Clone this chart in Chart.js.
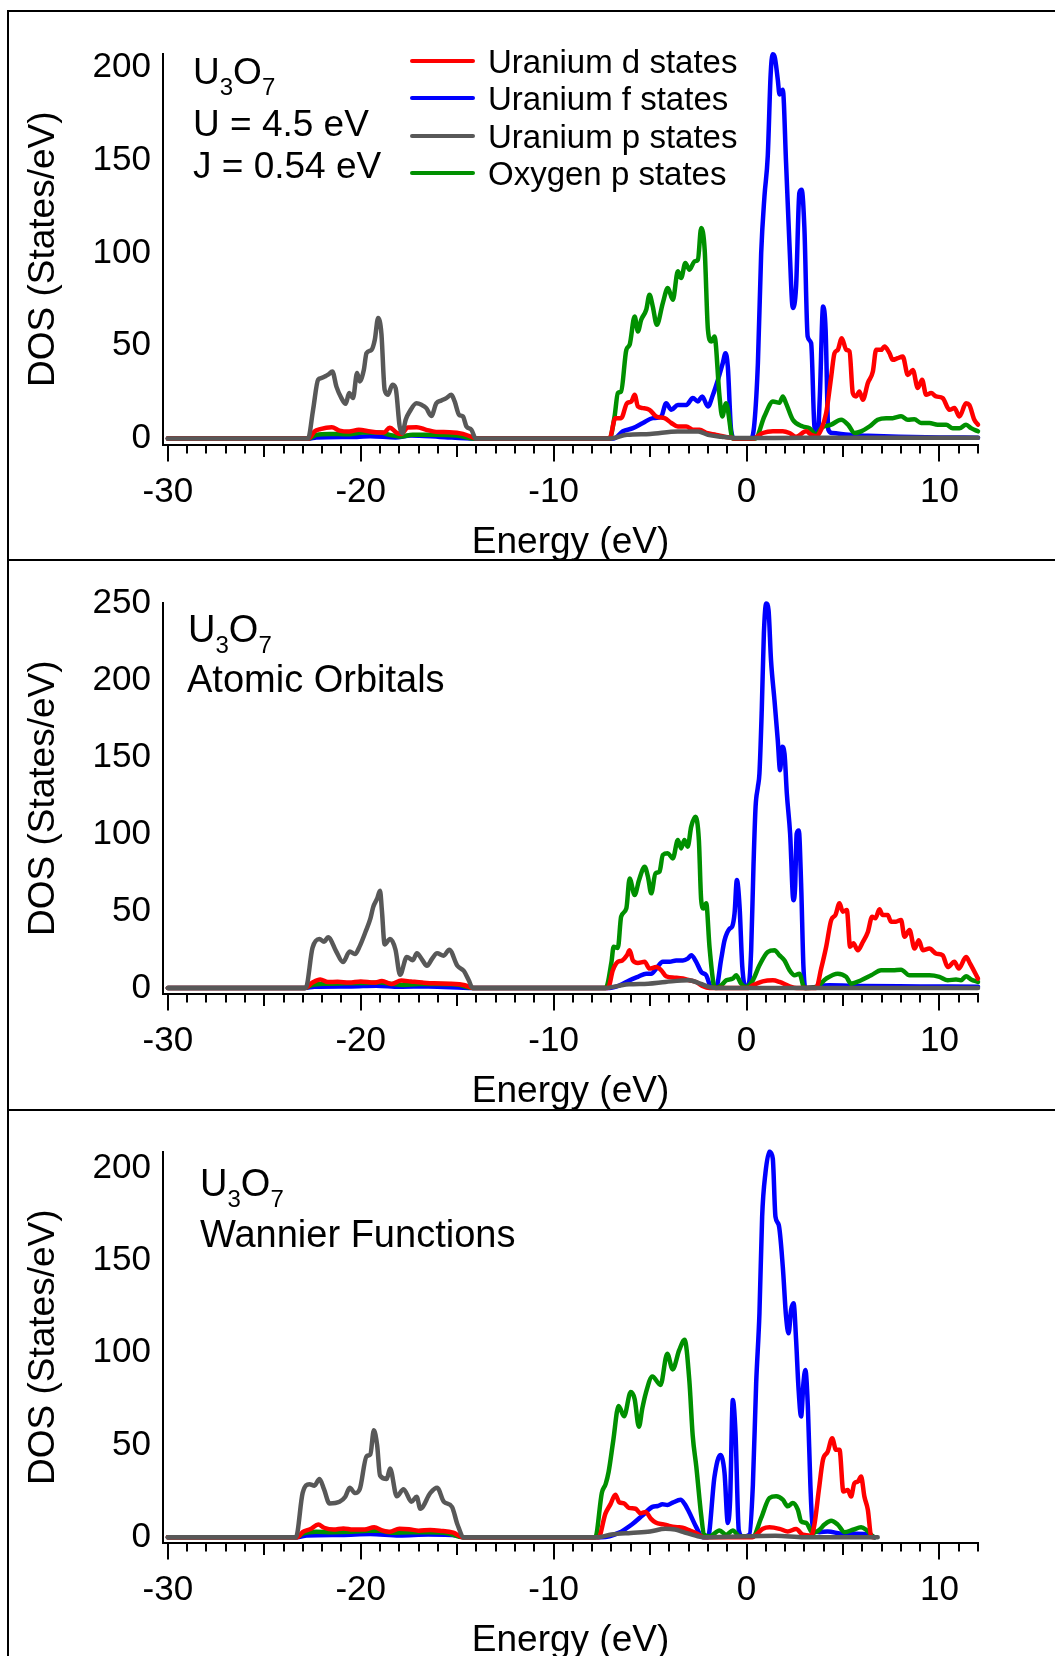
<!DOCTYPE html>
<html>
<head>
<meta charset="utf-8">
<script src="https://cdn.jsdelivr.net/npm/chart.js@4.4.1/dist/chart.umd.min.js"></script>
<style>
html,body{margin:0;padding:0;background:#fff;overflow:hidden;}
body{width:1055px;height:1656px;position:relative;font-family:'Liberation Sans',Arial,sans-serif;color:#000;}
.pane{position:absolute;left:0;width:1055px;height:565px;}
.hline{position:absolute;left:7px;right:0;height:2px;background:#000;z-index:5;}
.vline{position:absolute;left:7px;width:2px;top:10px;bottom:0;background:#000;z-index:5;}
.txt{position:absolute;white-space:nowrap;line-height:1;font-size:37px;z-index:6;}
.t38{font-size:38px;}
.sub{font-size:24px;position:relative;top:11px;}
.leg{position:absolute;left:410px;width:65px;height:4px;border-radius:2px;z-index:6;}
.legt{position:absolute;left:488px;font-size:33px;line-height:1;white-space:nowrap;z-index:6;}
</style>
</head>
<body>
<div class="pane" style="top:0px"><canvas id="c1" width="1055" height="565"></canvas></div>
<div class="pane" style="top:549px"><canvas id="c2" width="1055" height="565"></canvas></div>
<div class="pane" style="top:1098px"><canvas id="c3" width="1055" height="565"></canvas></div>

<div class="hline" style="top:10px"></div>
<div class="hline" style="top:559px"></div>
<div class="hline" style="top:1109px"></div>
<div class="vline"></div>

<div class="txt" style="left:193px;top:53px">U<span class="sub">3</span>O<span class="sub">7</span></div>
<div class="txt" style="left:193px;top:105px">U = 4.5 eV</div>
<div class="txt" style="left:193px;top:147px">J = 0.54 eV</div>

<div class="txt t38" style="left:188px;top:610px">U<span class="sub">3</span>O<span class="sub">7</span></div>
<div class="txt t38" style="left:187px;top:660px">Atomic Orbitals</div>

<div class="txt t38" style="left:200px;top:1164px">U<span class="sub">3</span>O<span class="sub">7</span></div>
<div class="txt t38" style="left:200px;top:1215px">Wannier Functions</div>

<div id="legend"></div>

<script>
// ---------- labels / ticks ----------
const seriesLabels = ['Uranium d states', 'Uranium f states', 'Uranium p states', 'Oxygen p states'];
const seriesColors = ['#ff0000', '#0000ff', '#585858', '#009000'];
const xTickVals = [-30, -20, -10, 0, 10];
const yTicksP1 = [0, 50, 100, 150, 200];
const yTicksP2 = [0, 50, 100, 150, 200, 250];
const yTicksP3 = [0, 50, 100, 150, 200];

// ---------- Panel 1 : U = 4.5 eV, J = 0.54 eV ----------
const p1Red = [[-30,0],[-22.7,0],[-22.4,3.8],[-22.1,5.1],[-21.5,6.1],[-21.1,4.3],[-20.6,3.8],[-20.1,4.7],[-19.5,3.8],[-18.8,3.2],[-18.5,5.8],[-18.1,2.9],[-17.9,2.5],[-17.55,6],[-17.1,6.1],[-16.6,4.7],[-16.1,3.6],[-15.4,3.4],[-14.7,2.5],[-14.1,0.3],[-14,0],
[-7.1,0],[-6.8,11],[-6.5,11],[-6.2,19],[-5.97,20],[-5.8,23.6],[-5.63,17.3],[-5.37,16.4],[-5.03,15.5],[-4.68,11.9],[-4.25,11],[-3.9,8.4],[-3.56,6.5],[-3.12,6.5],[-2.78,4.8],[-2.43,4.8],[-2.09,3],[-1.57,2],[-1.14,1],[-0.8,0.5],[-0.6,0],
[0.35,0],[0.84,3],[1.37,4],[1.88,4],[2.23,3],[2.57,1],[3.09,3.9],[3.35,2],[3.61,1.3],[3.87,4.8],[4.13,13.8],[4.39,33.4],[4.56,46],[4.73,47.8],[4.94,54.1],[5.17,47.8],[5.34,46.9],[5.51,24.5],[5.68,22.7],[5.85,25.4],[6.03,20.9],[6.29,30],[6.55,36.1],[6.72,47.8],[6.98,47.8],[7.15,49.6],[7.41,46],[7.58,42.4],[7.84,43.3],[8.1,44.2],[8.36,34.3],[8.62,37],[8.88,27.2],[9.1,31.7],[9.31,23.6],[9.57,24.5],[9.83,22.7],[10.17,21.8],[10.52,15.5],[10.78,16.4],[11.04,11.9],[11.38,19],[11.55,18.1],[11.81,10.1],[12,7.5]];
const p1Blue = [[-30,0],[-22.7,0],[-22.3,0.6],[-20.2,0.9],[-19.5,1.3],[-18.2,0.6],[-17.4,1.6],[-15.9,0.9],[-14.1,0],
[-6.9,0],[-6.41,3.9],[-5.89,5.6],[-5.37,8.4],[-4.86,11],[-4.42,11.9],[-4.17,19],[-3.9,15.5],[-3.56,18.1],[-3.12,18.1],[-2.78,21.8],[-2.52,20],[-2.3,22.7],[-2.0,17.3],[-1.74,23.6],[-1.48,31.7],[-1.23,40.7],[-1.09,46],[-0.97,38.8],[-0.8,4.8],[-0.62,0],
[0.24,0],[0.41,8.4],[0.59,40.7],[0.76,100],[0.93,130.5],[1.1,152],[1.25,196],[1.35,207],[1.45,206],[1.62,193.5],[1.71,185.4],[1.88,188],[2.05,148.5],[2.23,103.6],[2.4,70.3],[2.57,82],[2.74,132.4],[2.86,134],[3.0,113.5],[3.17,55],[3.35,51.4],[3.52,6.5],[3.69,1.3],[3.8,22.7],[3.97,71.2],[4.1,58.6],[4.24,4.8],[4.44,3],[5.3,2],[6.3,1.5],[7.9,1],[10,0.6],[12,0.5]];
const p1Gray = [[-30,0],[-22.73,0],[-22.47,15.5],[-22.21,31.7],[-22.04,32.6],[-21.87,33.4],[-21.69,34.4],[-21.47,36.1],[-21.26,28],[-21.0,21.8],[-20.78,18.7],[-20.6,24.5],[-20.4,21.8],[-20.19,35.3],[-20.05,30.8],[-19.84,37],[-19.7,46],[-19.44,47.8],[-19.27,53.2],[-19.1,64.9],[-18.93,56.8],[-18.76,26.3],[-18.59,23.6],[-18.36,29],[-18.19,27.2],[-17.98,6.5],[-17.84,2.9],[-17.67,10.1],[-17.46,14.6],[-17.11,19],[-16.85,18.2],[-16.6,16.4],[-16.34,12.2],[-16.08,19],[-15.82,20.5],[-15.56,21.8],[-15.3,23.6],[-15.13,20],[-14.9,12.8],[-14.7,11.9],[-14.52,6.5],[-14.26,4.7],[-14.04,0],
[-7.1,0],[-6.2,2],[-5.0,2.5],[-3.56,3.8],[-2.5,3.8],[-2.0,2],[-1.3,1],[-0.5,0.3],[3,0.4],[12,0.5]];
const p1Green = [[-30,0],[-22.7,0],[-22.3,2],[-21.6,2.5],[-20.7,2.3],[-19.9,3.2],[-19.0,3.2],[-18.5,2],[-18.0,1.1],[-17.3,2],[-16.1,2],[-15.0,1.7],[-14.1,0],
[-7.1,0],[-6.84,11.9],[-6.67,24.5],[-6.5,25.4],[-6.23,47.8],[-6.06,50.5],[-5.8,65.8],[-5.63,57.7],[-5.46,64],[-5.2,69.4],[-5.03,77.5],[-4.86,71.2],[-4.65,61.3],[-4.34,73],[-4.08,81.1],[-3.82,74.8],[-3.56,90.1],[-3.39,86.5],[-3.17,94.6],[-2.96,91],[-2.69,95.5],[-2.52,96.4],[-2.35,113.5],[-2.17,101.8],[-2.0,58.6],[-1.83,52.3],[-1.66,55],[-1.4,22.7],[-1.26,11.9],[-1.06,19],[-0.71,0],
[0.45,0],[0.93,12],[1.37,20],[1.71,19.3],[1.88,22.7],[2.05,19],[2.4,10.1],[2.92,6.5],[3.26,5.6],[3.61,2],[3.87,5.6],[4.39,7.5],[4.91,10.1],[5.26,7.5],[5.6,3],[5.94,3.9],[6.37,6.5],[6.8,10.1],[7.24,11],[7.58,11],[8.01,12],[8.36,10.1],[8.7,10.4],[9.05,8.4],[9.48,8.4],[9.91,7.5],[10.35,7.5],[10.69,5.6],[11.04,5.6],[11.38,7.5],[11.64,5.6],[12,3.9]];

// ---------- Panel 2 : Atomic Orbitals ----------
const p2Red = [[-30,0],[-22.9,0],[-22.5,3.5],[-22.1,5.5],[-21.7,3.8],[-21.2,4],[-20.6,3.5],[-20,4.2],[-19.3,3.5],[-18.9,4.5],[-18.4,2.5],[-17.9,4.8],[-17.4,4.2],[-16.8,3.5],[-16.2,3],[-15.4,2.8],[-14.6,1.8],[-14.2,0],
[-7.18,0],[-6.93,11.5],[-6.67,17],[-6.44,17.9],[-6.2,21.2],[-6.06,24.5],[-5.89,17.9],[-5.63,16.3],[-5.28,17],[-5.03,12.6],[-4.68,13.6],[-4.42,11.5],[-4.17,7.6],[-3.73,6.7],[-3.3,6.1],[-2.96,5],[-2.61,3.9],[-2.26,1.1],[-1.92,0],
[0.1,0],[0.33,1.7],[0.84,4.3],[1.37,5],[1.71,3.9],[2.23,1.1],[2.6,0],[3.61,0],[3.87,12.6],[4.13,26.8],[4.39,44.1],[4.61,47.4],[4.82,55],[4.99,49.6],[5.2,50.6],[5.37,26.8],[5.54,29],[5.77,24.5],[6.03,29.9],[6.29,36.4],[6.51,46.3],[6.68,45.3],[6.89,51.1],[7.06,47.4],[7.32,47.4],[7.49,43.1],[7.75,43.1],[8.01,44.2],[8.19,33.3],[8.45,37.6],[8.71,25.6],[8.93,31],[9.14,24.5],[9.48,25.6],[9.83,22.3],[10.17,21.2],[10.43,13.6],[10.78,17],[11.0,12.6],[11.38,20.1],[11.59,15.8],[12,6.1]];
const p2Blue = [[-30,0],[-22.9,0],[-22.4,0.8],[-20.5,1],[-19.2,1.5],[-18,0.8],[-16.5,1],[-14.2,0],
[-7.1,0],[-6.58,1.7],[-6.06,5],[-5.63,7.2],[-5.2,9.3],[-4.94,9.3],[-4.68,12.6],[-4.34,17],[-3.99,17],[-3.65,17.9],[-3.3,17.9],[-3.05,19],[-2.87,21.2],[-2.61,17],[-2.35,10.4],[-2.09,8.2],[-1.83,0.6],[-1.57,0.6],[-1.31,19],[-1.14,30.9],[-0.88,38.5],[-0.74,40],[-0.62,48.5],[-0.5,70.1],[-0.36,52.9],[-0.22,14],[-0.05,0.6],[0.12,2.8],[0.24,24.5],[0.36,78.8],[0.47,117.8],[0.59,130.7],[0.67,139.4],[0.79,180.6],[0.9,230.4],[1.02,249.9],[1.14,245.6],[1.27,213],[1.45,186.9],[1.62,161],[1.74,141.5],[1.85,156.7],[1.97,152.3],[2.09,126.3],[2.26,100.3],[2.43,57],[2.52,65.7],[2.6,100.3],[2.71,102.4],[2.83,67.8],[2.95,14],[3.05,0],[4.3,1.7],[6,1.2],[9,1],[12,0.8]];
const p2Gray = [[-30,0],[-22.85,0],[-22.5,26],[-22.14,31.8],[-21.9,30],[-21.69,33],[-21.27,23.7],[-20.92,16.8],[-20.57,23.7],[-20.3,22],[-20.05,27.2],[-19.75,36.5],[-19.5,45],[-19.35,52.7],[-19.15,58],[-19.0,63.2],[-18.9,50],[-18.76,28.3],[-18.48,31.8],[-18.2,25],[-17.96,8.6],[-17.61,20.2],[-17.3,18],[-17.09,22.5],[-16.8,18],[-16.57,14.4],[-16.3,19],[-16.04,22.5],[-15.7,21],[-15.41,24.9],[-14.99,14.4],[-14.65,11],[-14.4,5],[-14.2,0],
[-7.3,0],[-6.6,1.5],[-6.1,2.4],[-5.1,2.8],[-4.2,3.9],[-3.0,5],[-2.4,2.8],[-1.9,0.5],[-1.5,0],[12,0]];
const p2Green = [[-30,0],[-22.9,0],[-22.5,2],[-21.8,2.8],[-20.8,3],[-19.8,3.2],[-19,3.5],[-18.3,2.5],[-17.8,2],[-17,2.5],[-16,2.5],[-15,2.2],[-14.2,0],
[-7.3,0],[-7.0,17],[-6.89,26.8],[-6.67,26],[-6.5,46.3],[-6.23,51.7],[-6.06,71.2],[-5.8,60.4],[-5.57,70.2],[-5.28,78.8],[-5.11,72.3],[-4.94,61.5],[-4.72,74.5],[-4.51,75.6],[-4.34,86.4],[-4.08,87.5],[-3.82,84.2],[-3.56,96.1],[-3.39,90.7],[-3.22,96.1],[-3.05,91.8],[-2.87,104.7],[-2.65,111.2],[-2.47,96.1],[-2.35,57.1],[-2.23,51.7],[-2.09,55],[-1.92,26.8],[-1.71,2.8],[-1.6,0],[-1.31,1.7],[-1.05,5],[-0.71,6.1],[-0.54,8.2],[-0.28,2.8],[-0.02,0.6],[0.33,5],[0.67,14.7],[1.1,23.4],[1.45,24.5],[1.71,21.2],[1.97,17.9],[2.23,11.5],[2.49,8.2],[2.74,9.3],[3.0,0],[3.61,0.6],[4.13,6.1],[4.73,9.3],[5.17,7.2],[5.42,2.8],[5.94,5],[6.46,8.2],[6.98,11.5],[7.58,11.5],[8.01,11.9],[8.45,8.2],[8.88,8.2],[9.48,8.2],[10.0,7.2],[10.43,5],[10.86,5.5],[11.12,5],[11.38,7.6],[11.64,5.5],[12,3.9]];

// ---------- Panel 3 : Wannier Functions ----------
const p3Red = [[-30,0],[-23.3,0],[-23.0,3],[-22.6,4.5],[-22.2,7],[-21.9,5.2],[-21.4,4.2],[-20.9,4.8],[-20.4,4.2],[-19.8,4.2],[-19.3,5.5],[-18.9,3.8],[-18.5,3],[-18,4.6],[-17.5,4.4],[-17,3.6],[-16.4,4],[-15.9,3.6],[-15.2,2.5],[-14.7,0],
[-7.67,0],[-7.32,12.7],[-7.05,18],[-6.8,23.1],[-6.6,19],[-6.35,18.4],[-6.1,16],[-5.75,15.5],[-5.5,13],[-5.23,13.7],[-4.95,10],[-4.71,8],[-4.3,7],[-4.01,6.2],[-3.6,5.5],[-3.32,5.2],[-2.9,3.5],[-2.62,2.3],[-2.2,0],
[0.3,0],[0.5,1.4],[0.85,4.6],[1.19,5.4],[1.71,4.6],[2.14,3.2],[2.57,4.5],[2.92,1.4],[3.35,0.9],[3.52,6.9],[3.75,25.7],[3.96,41.9],[4.21,46.4],[4.44,53.7],[4.64,47.4],[4.82,47.4],[5.02,24.8],[5.25,25.7],[5.42,22.1],[5.59,29.3],[5.77,30.2],[5.94,32.9],[6.11,22.1],[6.29,14.9],[6.46,0.5],[6.55,0]];
const p3Blue = [[-30,0],[-23.3,0],[-22.8,1],[-21,1.3],[-19.5,1.8],[-18,1],[-16.5,1.5],[-15,1],[-14.7,0],
[-7.5,0],[-6.63,2.4],[-5.93,7.1],[-5.4,11.8],[-4.88,16.5],[-4.6,17],[-4.36,17.9],[-4.1,17.5],[-3.83,18.8],[-3.42,20.3],[-3.2,18],[-2.96,13.3],[-2.62,5.8],[-2.27,0],[-2.0,0],[-1.66,32.9],[-1.36,44.6],[-1.14,34.9],[-0.97,7.8],[-0.85,20.4],[-0.71,74.4],[-0.57,56.4],[-0.4,3.7],[-0.19,0.5],[0.15,1.4],[0.33,28.5],[0.5,83.5],[0.67,121.4],[0.81,173.8],[0.98,197.3],[1.19,209],[1.36,205.4],[1.5,173.8],[1.67,169.3],[1.88,146.7],[2.05,119.6],[2.18,110.6],[2.31,123.2],[2.44,126.8],[2.57,107],[2.69,81.7],[2.83,65.5],[2.95,83.5],[3.05,90.7],[3.18,70.9],[3.31,28.5],[3.44,3.7],[3.78,2.8],[4.21,3.2],[4.99,1.9],[5.68,1.9],[6.37,1.4],[6.63,0]];
const p3Gray = [[-30,0],[-23.36,0],[-23.01,24.1],[-22.66,28.8],[-22.4,28],[-22.14,31.6],[-21.9,26],[-21.62,18.4],[-21.1,19.3],[-20.8,22],[-20.57,26.9],[-20.3,24],[-20.05,26.1],[-19.7,43.9],[-19.5,45],[-19.32,58],[-19.15,50],[-19.0,33.5],[-18.65,31.6],[-18.48,37.3],[-18.13,22.2],[-17.78,26.1],[-17.37,19.3],[-17.1,22],[-16.91,15.5],[-16.39,24.1],[-16.04,26.9],[-15.69,19.3],[-15.27,16.5],[-14.99,7.1],[-14.65,0],
[-7.8,0],[-7.0,1.5],[-6,2.4],[-5,3.2],[-4.2,4.6],[-3.7,4.2],[-3.3,3],[-2.6,0.8],[-2.2,0],[1.5,0.8],[3,0],[6.8,0]];
const p3Green = [[-30,0],[-23.3,0],[-23,2],[-22.3,3],[-21.5,2.8],[-20.5,3],[-19.6,3.5],[-19,3.6],[-18.4,2.5],[-17.5,2.8],[-16.5,2.8],[-15.5,2.2],[-14.7,0],
[-7.84,0],[-7.5,24.1],[-7.3,29],[-7.15,35.4],[-6.91,52.3],[-6.63,71.2],[-6.35,65.6],[-6.0,78.8],[-5.8,75],[-5.58,59.9],[-5.4,70],[-5.23,77.8],[-4.88,87.2],[-4.46,82.6],[-4.11,99.5],[-3.83,91],[-3.49,101.4],[-3.21,107],[-2.96,84.4],[-2.79,55.2],[-2.6,38],[-2.35,12],[-2.2,1.4],[-1.92,0.5],[-1.4,3.7],[-1.05,1.4],[-0.71,3.7],[-0.36,0.5],[0.33,0.5],[0.76,10.5],[1.19,21.3],[1.54,22.2],[1.88,20.4],[2.14,16.8],[2.4,18.6],[2.66,15],[2.83,8.7],[3.09,7.8],[3.44,2.3],[3.78,4.1],[4.04,6.9],[4.39,9],[4.73,6.9],[5.08,2.8],[5.51,4.1],[5.94,5.4],[6.2,4.1],[6.55,0.5],[6.65,0]];

// ---------- drawing ----------
const FONT = "'Liberation Sans', Arial, sans-serif";

const minorTicks = {
  id: 'minorTicks',
  afterDraw(chart) {
    const s = chart.scales.x, ctx = chart.ctx;
    ctx.save();
    ctx.strokeStyle = '#000';
    ctx.lineWidth = 2;
    for (let v = Math.ceil(s.min); v <= s.max; v++) {
      if (v % 10 === 0) continue;
      const len = (v % 5 === 0) ? 12.5 : 9;
      const px = Math.round(s.getPixelForValue(v));
      ctx.beginPath();
      ctx.moveTo(px, s.top);
      ctx.lineTo(px, s.top + len);
      ctx.stroke();
    }
    ctx.restore();
  }
};

function ds(points, idx, order) {
  return {
    label: seriesLabels[idx],
    data: points.map(p => ({x: p[0], y: p[1]})),
    borderColor: seriesColors[idx],
    backgroundColor: seriesColors[idx],
    borderWidth: 4.5,
    pointRadius: 0,
    cubicInterpolationMode: 'monotone',
    borderJoinStyle: 'round',
    borderCapStyle: 'round',
    clip: false,
    order: order
  };
}

function makeChart(id, series, yMin, yMax, yTicks) {
  new Chart(document.getElementById(id), {
    type: 'line',
    data: {
      datasets: [
        ds(series[0], 0, 1),
        ds(series[1], 1, 3),
        ds(series[2], 2, 0),
        ds(series[3], 3, 2)
      ]
    },
    options: {
      responsive: false,
      animation: false,
      devicePixelRatio: 1,
      layout: {padding: {top: 54, left: 0, right: 77, bottom: 0}},
      plugins: {legend: {display: false}, tooltip: {enabled: false}},
      scales: {
        x: {
          type: 'linear', position: 'bottom', min: -30.25, max: 12,
          afterFit: s => { s.height = 120.5; },
          afterBuildTicks: s => { s.ticks = xTickVals.map(v => ({value: v})); },
          grid: {display: true, drawOnChartArea: false, drawTicks: true, tickLength: 17, color: '#000', lineWidth: 2},
          border: {display: true, color: '#000', width: 2},
          ticks: {color: '#000', font: {family: FONT, size: 35}, padding: 10, maxRotation: 0, autoSkip: false,
                  callback: v => String(v)},
          title: {display: true, text: 'Energy (eV)', color: '#000', font: {family: FONT, size: 37},
                  padding: {top: 0, bottom: 0}}
        },
        y: {
          type: 'linear', min: yMin, max: yMax,
          afterFit: s => { s.width = 163; },
          afterBuildTicks: s => { s.ticks = yTicks.map(v => ({value: v})); },
          grid: {display: false, drawTicks: false},
          border: {display: true, color: '#000', width: 2},
          ticks: {color: '#000', font: {family: FONT, size: 35}, padding: 12, autoSkip: false,
                  callback: v => String(v)},
          title: {display: true, text: 'DOS (States/eV)', color: '#000', font: {family: FONT, size: 37},
                  padding: {top: 22, bottom: 0}}
        }
      }
    },
    plugins: [minorTicks]
  });
}

makeChart('c1', [p1Red, p1Blue, p1Gray, p1Green], -3.2, 207.2, yTicksP1);
makeChart('c2', [p2Red, p2Blue, p2Gray, p2Green], -3.6, 250.2, yTicksP2);
makeChart('c3', [p3Red, p3Blue, p3Gray, p3Green], -2.8, 208.8, yTicksP3);

// legend (panel 1)
const legendY = [61, 98.3, 135.7, 172.7];
const lg = document.getElementById('legend');
seriesLabels.forEach((lab, i) => {
  const ln = document.createElement('div');
  ln.className = 'leg';
  ln.style.top = (legendY[i] - 2) + 'px';
  ln.style.background = seriesColors[i];
  lg.appendChild(ln);
  const t = document.createElement('div');
  t.className = 'legt';
  t.style.top = (legendY[i] - 16) + 'px';
  t.textContent = lab;
  lg.appendChild(t);
});
</script>
</body>
</html>
